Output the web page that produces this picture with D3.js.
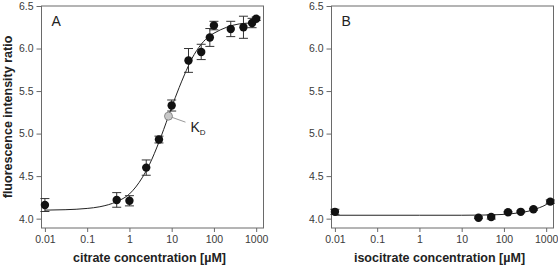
<!DOCTYPE html>
<html>
<head>
<meta charset="utf-8">
<script src="https://cdn.jsdelivr.net/npm/d3@7"></script>
<style>
  body { margin: 0; background: #fff; }
  svg text { font-family: Arial, "Liberation Sans", sans-serif; }
</style>
</head>
<body>
<svg id="chart" width="558" height="266"></svg>
<script>
// panel A: citrate
var citrateConc  = [0.01, 0.5, 1, 2.5, 5, 10, 25, 50, 80, 100, 250, 500, 800, 1000];
var citrateRatio = [4.16, 4.22, 4.21, 4.60, 4.93, 5.33, 5.86, 5.96, 6.13, 6.27, 6.23, 6.25, 6.30, 6.35];
var citrateErr   = [0.076, 0.086, 0.06, 0.09, 0.04, 0.065, 0.14, 0.09, 0.105, 0.05, 0.09, 0.13, 0.055, 0.02];
var citrateFitX  = [0.01, 0.03, 0.1, 0.2, 0.5, 1, 2, 3, 5, 8.4, 10, 15, 20, 30, 50, 80, 100, 200, 400, 700, 1000];
var citrateFitY  = [4.10, 4.105, 4.12, 4.14, 4.20, 4.29, 4.48, 4.64, 4.90, 5.205, 5.31, 5.54, 5.69, 5.88, 6.05, 6.15, 6.18, 6.25, 6.29, 6.30, 6.31];
var kdConc = 8.4, kdRatio = 5.205;

// panel B: isocitrate
var isoConc  = [0.01, 25, 50, 125, 250, 500, 1250];
var isoRatio = [4.08, 4.01, 4.02, 4.075, 4.08, 4.11, 4.20];
var isoErr   = [0.03, 0.01, 0.025, 0.01, 0.01, 0.01, 0.02];
var isoFitX  = [0.01, 1, 10, 30, 100, 200, 400, 700, 1000, 1250];
var isoFitY  = [4.04, 4.04, 4.04, 4.042, 4.05, 4.065, 4.09, 4.13, 4.165, 4.20];

var xTicks = [0.01, 0.1, 1, 10, 100, 1000];
var xTickLabels = ['0.01', '0.1', '1', '10', '100', '1000'];
var yTicks = [4.0, 4.5, 5.0, 5.5, 6.0, 6.5];

var svg = d3.select('#chart');
var w = 222, h = 222;

var x = d3.scaleLog().domain([0.0083, 1490]).range([0, w]);
var y = d3.scaleLinear().domain([3.89, 6.5]).range([h, 0]);

var line = d3.line()
  .x(function(d) { return x(d[0]); })
  .y(function(d) { return y(d[1]); })
  .curve(d3.curveMonotoneX);

function panel(left, letter, xTitle, conc, ratio, err, fitX, fitY, showYTitle) {
  var g = svg.append('g').attr('transform', 'translate(' + left + ',6)');

  // frame
  g.append('rect')
    .attr('x', 0).attr('y', 0).attr('width', w).attr('height', h)
    .attr('fill', 'none').attr('stroke', '#6a6a6a').attr('stroke-width', 1);

  var xAxis = g.append('g')
    .attr('transform', 'translate(0,' + h + ')')
    .call(d3.axisBottom(x).tickValues(xTicks).tickSize(4).tickPadding(4)
      .tickFormat(function(d, i) { return xTickLabels[i]; }));
  var yAxis = g.append('g')
    .call(d3.axisLeft(y).tickValues(yTicks).tickSize(5).tickPadding(3)
      .tickFormat(d3.format('.1f')));
  [xAxis, yAxis].forEach(function(a) {
    a.select('.domain').remove();
    a.selectAll('line').attr('stroke', '#6a6a6a');
    a.selectAll('text').attr('fill', '#3a3a3a').style('font-size', '10.5px');
  });

  // fitted curve
  g.append('path')
    .datum(fitX.map(function(v, i) { return [v, fitY[i]]; }))
    .attr('fill', 'none').attr('stroke', '#222').attr('stroke-width', 1)
    .attr('d', line);

  var pts = conc.map(function(v, i) { return {c: v, r: ratio[i], e: err[i]}; });

  // error bars
  var eb = g.append('g').attr('stroke', '#333').attr('stroke-width', 1);
  pts.forEach(function(p) {
    var cx = x(p.c);
    eb.append('line').attr('x1', cx).attr('x2', cx).attr('y1', y(p.r - p.e)).attr('y2', y(p.r + p.e));
    eb.append('line').attr('x1', cx - 4.5).attr('x2', cx + 4.5).attr('y1', y(p.r + p.e)).attr('y2', y(p.r + p.e));
    eb.append('line').attr('x1', cx - 4.5).attr('x2', cx + 4.5).attr('y1', y(p.r - p.e)).attr('y2', y(p.r - p.e));
  });

  g.selectAll('circle.pt').data(pts).enter().append('circle')
    .attr('class', 'pt')
    .attr('cx', function(d) { return x(d.c); })
    .attr('cy', function(d) { return y(d.r); })
    .attr('r', 4.2)
    .attr('fill', '#111');

  g.append('text').attr('x', 10).attr('y', 20)
    .style('font-size', '14px').attr('fill', '#222').text(letter);

  g.append('text')
    .attr('x', w / 2 - 3).attr('y', h + 34)
    .attr('text-anchor', 'middle')
    .style('font-size', '12.5px').style('font-weight', 'bold').attr('fill', '#222')
    .text(xTitle);

  if (showYTitle) {
    g.append('text')
      .attr('transform', 'translate(' + (-30) + ',' + (h / 2) + ') rotate(-90)')
      .attr('text-anchor', 'middle')
      .style('font-size', '12.5px').style('font-weight', 'bold').attr('fill', '#222')
      .text('fluorescence intensity ratio');
  }
  return g;
}

var gA = panel(41.5, 'A', 'citrate concentration [\u00b5M]',
  citrateConc, citrateRatio, citrateErr, citrateFitX, citrateFitY, true);
panel(331.5, 'B', 'isocitrate concentration [\u00b5M]',
  isoConc, isoRatio, isoErr, isoFitX, isoFitY, false);

// K_D marker
var kx = x(kdConc), ky = y(kdRatio);
gA.append('line')
  .attr('x1', kx + 3).attr('y1', ky + 1).attr('x2', kx + 17).attr('y2', ky + 6)
  .attr('stroke', '#999').attr('stroke-width', 1);
gA.append('circle').attr('cx', kx).attr('cy', ky).attr('r', 4)
  .attr('fill', '#c8c8c8').attr('stroke', '#777').attr('stroke-width', 0.8);
var kd = gA.append('text').attr('x', kx + 22).attr('y', ky + 16)
  .style('font-size', '14px').attr('fill', '#222');
kd.append('tspan').text('K');
kd.append('tspan').attr('dy', 3).style('font-size', '8px').text('D');
</script>
</body>
</html>
